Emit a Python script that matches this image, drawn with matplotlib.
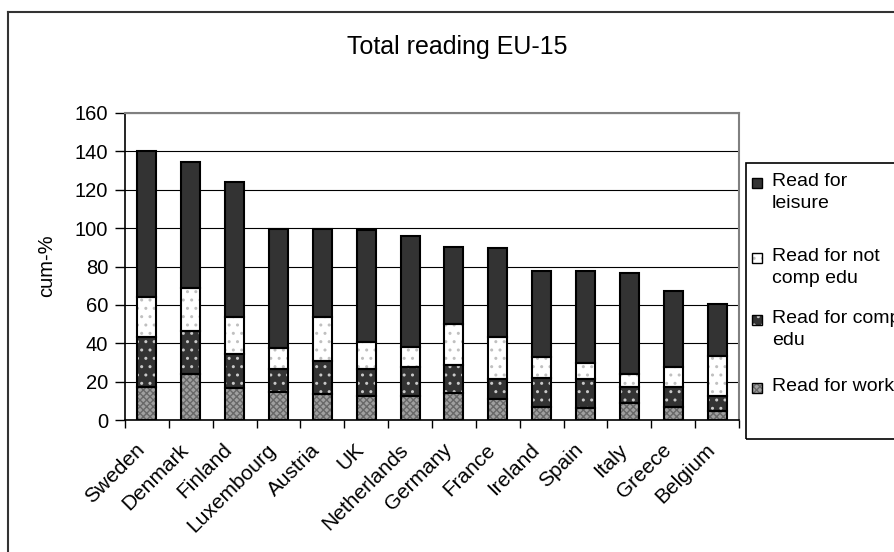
import matplotlib
matplotlib.use("Agg")
import matplotlib.pyplot as plt
from matplotlib.patches import Rectangle
from matplotlib.lines import Line2D
from matplotlib.transforms import ScaledTranslation
import numpy as np

plt.rcParams['font.family'] = ['Liberation Sans', 'DejaVu Sans']
plt.rcParams['hatch.linewidth'] = 1.0

countries = ["Sweden", "Denmark", "Finland", "Luxembourg", "Austria", "UK",
             "Netherlands", "Germany", "France", "Ireland", "Spain", "Italy",
             "Greece", "Belgium"]

# percentages per reading purpose, stacked bottom -> top
work =     [17.4, 23.8, 16.5, 14.4, 13.4, 12.5, 12.5, 14.3, 10.8, 7.0, 6.1, 8.7, 7.0, 4.9]
comp_edu = [26.1, 22.6, 17.8, 12.4, 17.4, 14.3, 15.3, 14.4, 10.6, 15.1, 15.1, 8.7, 10.4, 7.8]
not_comp = [20.5, 22.3, 19.4, 10.9, 22.9, 13.7, 10.1, 21.4, 22.1, 10.9, 8.4, 6.4, 10.1, 20.5]
leisure =  [76.0, 65.7, 70.3, 62.1, 46.1, 58.5, 58.1, 40.3, 46.1, 44.4, 47.8, 52.7, 39.6, 27.3]

series = [
    # label, values, face, hatch colour, hatch
    ("Read for work", work, "#a0a0a0", "#686868", "xxxxx"),
    ("Read for comp\nedu", comp_edu, "#333333", "#c8c8c8", ".."),
    ("Read for not\ncomp edu", not_comp, "#ffffff", "#c0c0c0", ".."),
    ("Read for\nleisure", leisure, "#333333", None, None),
]

fig = plt.figure(figsize=(8.95, 5.52), dpi=100)
ax = fig.add_axes([125 / 895, 1 - 420 / 552, 614 / 895, 307 / 552])

x = np.arange(len(countries))
bottom = np.zeros(len(countries))
for label, vals, face, hcol, hatch in series:
    vals = np.array(vals)
    if hatch:
        ax.bar(x, vals, 0.43, bottom=bottom, color=face, edgecolor=hcol,
               linewidth=0, hatch=hatch, zorder=2)
    else:
        ax.bar(x, vals, 0.43, bottom=bottom, color=face, linewidth=0, zorder=2)
    ax.bar(x, vals, 0.43, bottom=bottom, fill=False, edgecolor="black",
           linewidth=1.5, zorder=3)
    bottom += vals

ax.set_xlim(-0.5, len(countries) - 0.5)
ax.set_ylim(0, 160)
ax.set_yticks(range(0, 161, 20))
ax.yaxis.grid(True, color="black", linewidth=0.8)
ax.set_axisbelow(True)

# category names, slanted, hanging below the axis
ax.set_xticks(x, labels=[])
ax.tick_params(axis="x", which="major", length=0)
label_tr = ax.get_xaxis_transform() + ScaledTranslation(-12 / 100, -20 / 100,
                                                         fig.dpi_scale_trans)
for i, name in enumerate(countries):
    ax.text(i, 0, name, transform=label_tr, rotation=45, ha="right", va="top",
            rotation_mode="anchor", fontsize=15)

ax.set_xticks(np.arange(len(countries) + 1) - 0.5, minor=True)
ax.tick_params(axis="x", which="minor", length=6, width=1, direction="out")
ax.tick_params(axis="y", length=7, width=1, labelsize=14.5, pad=5)

for side in ("left", "bottom"):
    ax.spines[side].set_color("black")
    ax.spines[side].set_linewidth(1.2)
for side in ("top", "right"):
    ax.spines[side].set_color("#808080")
    ax.spines[side].set_linewidth(1.5)

fig.text(47 / 895, 1 - 266 / 552, "cum-%", rotation=90, fontsize=14.5,
         ha="center", va="center")
fig.text(457 / 895, 1 - 47 / 552, "Total reading EU-15", fontsize=18,
         ha="center", va="center")

# outer chart frame (runs off the right and bottom edge)
fig.add_artist(Line2D([8 / 895, 1.0], [1 - 12 / 552, 1 - 12 / 552],
                      transform=fig.transFigure, color="#333333", linewidth=1.5))
fig.add_artist(Line2D([8 / 895, 8 / 895], [0.0, 1 - 12 / 552],
                      transform=fig.transFigure, color="#333333", linewidth=1.5))

# legend box, top-down order
fig.add_artist(Rectangle((746 / 895, 1 - 439 / 552), 200 / 895, 276 / 552,
                         transform=fig.transFigure, fill=False,
                         edgecolor="black", linewidth=1.2))
entry_y = [183, 258, 320, 388]
for (label, vals, face, hcol, hatch), ey in zip(series[::-1], entry_y):
    yb = 1 - (ey + 5) / 552
    fig.add_artist(Rectangle((752 / 895, yb), 10 / 895, 10 / 552,
                             transform=fig.transFigure, facecolor=face,
                             edgecolor=hcol if hatch else face, hatch=hatch,
                             linewidth=0))
    fig.add_artist(Rectangle((752 / 895, yb), 10 / 895, 10 / 552,
                             transform=fig.transFigure, fill=False,
                             edgecolor="black", linewidth=1.0))
    fig.text(772 / 895, 1 - (ey - 10) / 552, label, fontsize=14, ha="left",
             va="top", linespacing=1.35)

fig.savefig("out.png", dpi=100)
